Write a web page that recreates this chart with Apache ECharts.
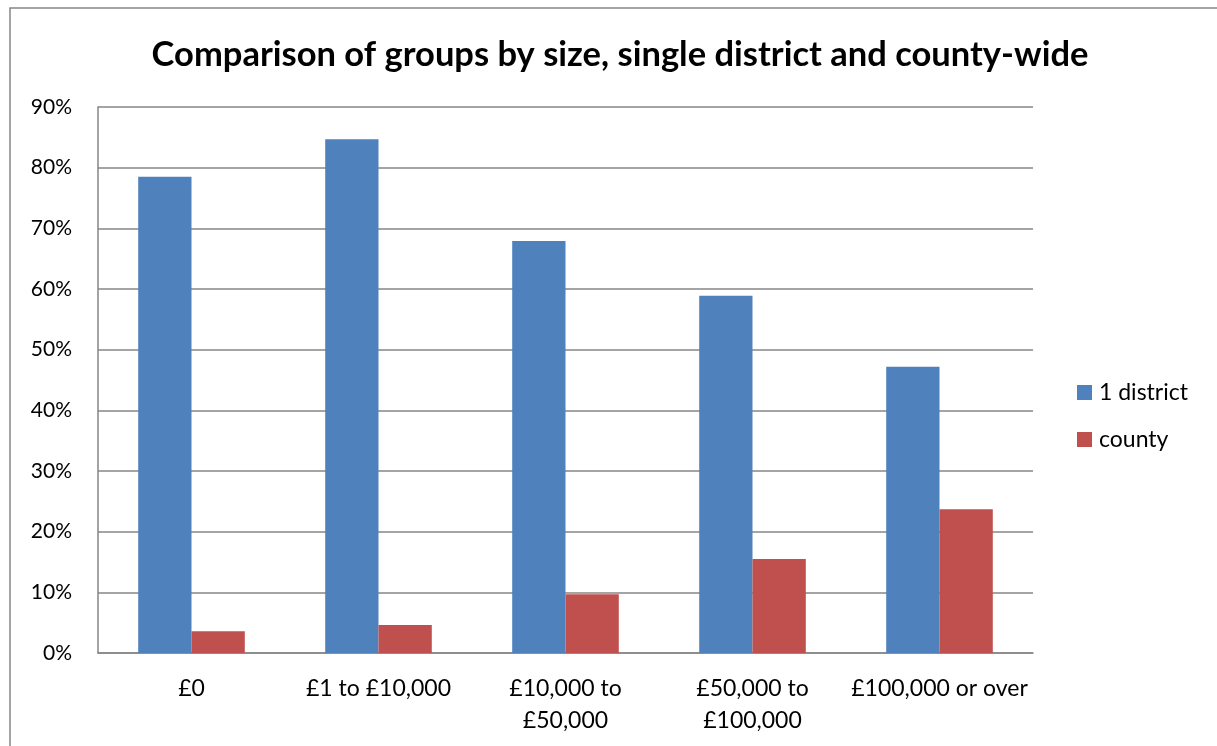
<!DOCTYPE html>
<html>
<head>
<meta charset="utf-8">
<script src="https://cdn.jsdelivr.net/npm/echarts@6/dist/echarts.min.js"></script>
<style>
  html, body { margin: 0; padding: 0; background: #fff; }
  #chart { width: 1217px; height: 746px; }
</style>
</head>
<body>
<div id="chart"></div>
<script>
// Share of groups in each income band: operating in a single district vs county-wide
const categories = ['£0', '£1 to £10,000', '£10,000 to\n£50,000', '£50,000 to\n£100,000', '£100,000 or over'];
const oneDistrict = [78.5, 84.7, 67.9, 58.9, 47.2];
const county = [3.6, 4.6, 9.7, 15.5, 23.7];
const seriesNames = ['1 district', 'county'];

const FONT = 'Lato, "Open Sans", sans-serif';

const chart = echarts.init(document.getElementById('chart'));
chart.setOption({
  animation: false,
  backgroundColor: '#ffffff',
  color: ['#4f81bd', '#c0504d'],
  textStyle: { fontFamily: FONT },
  graphic: [{
    type: 'rect',
    shape: { x: 10, y: 8, width: 1300, height: 800 },
    style: { fill: 'none', stroke: '#868686', lineWidth: 1.5 },
    silent: true
  }],
  title: {
    text: 'Comparison of groups by size, single district and county-wide',
    left: 615,
    top: 32,
    textAlign: 'center',
    textStyle: { fontFamily: FONT, fontSize: 34.5, fontWeight: 'bold', color: '#000' }
  },
  legend: {
    orient: 'vertical',
    left: 1077,
    top: 381,
    padding: 0,
    itemWidth: 15,
    itemHeight: 15,
    itemGap: 24,
    icon: 'rect',
    textStyle: { fontFamily: FONT, fontSize: 23, color: '#000', padding: [0, 0, 0, 2] },
    data: seriesNames
  },
  grid: { left: 98, right: 184, top: 107, bottom: 93, containLabel: false },
  xAxis: {
    type: 'category',
    data: categories,
    axisLine: { lineStyle: { color: '#868686', width: 1.5 } },
    axisTick: { show: false },
    axisLabel: { color: '#000', fontSize: 23, fontFamily: FONT, margin: 20, lineHeight: 32, interval: 0 }
  },
  yAxis: {
    type: 'value',
    min: 0,
    max: 90,
    interval: 10,
    axisLine: { show: true, lineStyle: { color: '#868686', width: 1.5 } },
    axisTick: { show: false },
    splitLine: { lineStyle: { color: '#868686', width: 1.5 } },
    axisLabel: { color: '#000', fontSize: 21, fontFamily: FONT, margin: 26, formatter: '{value}%' }
  },
  series: [
    { name: seriesNames[0], type: 'bar', data: oneDistrict, barGap: '0%', barCategoryGap: '43%' },
    { name: seriesNames[1], type: 'bar', data: county, barGap: '0%', barCategoryGap: '43%' }
  ]
});
</script>
</body>
</html>
